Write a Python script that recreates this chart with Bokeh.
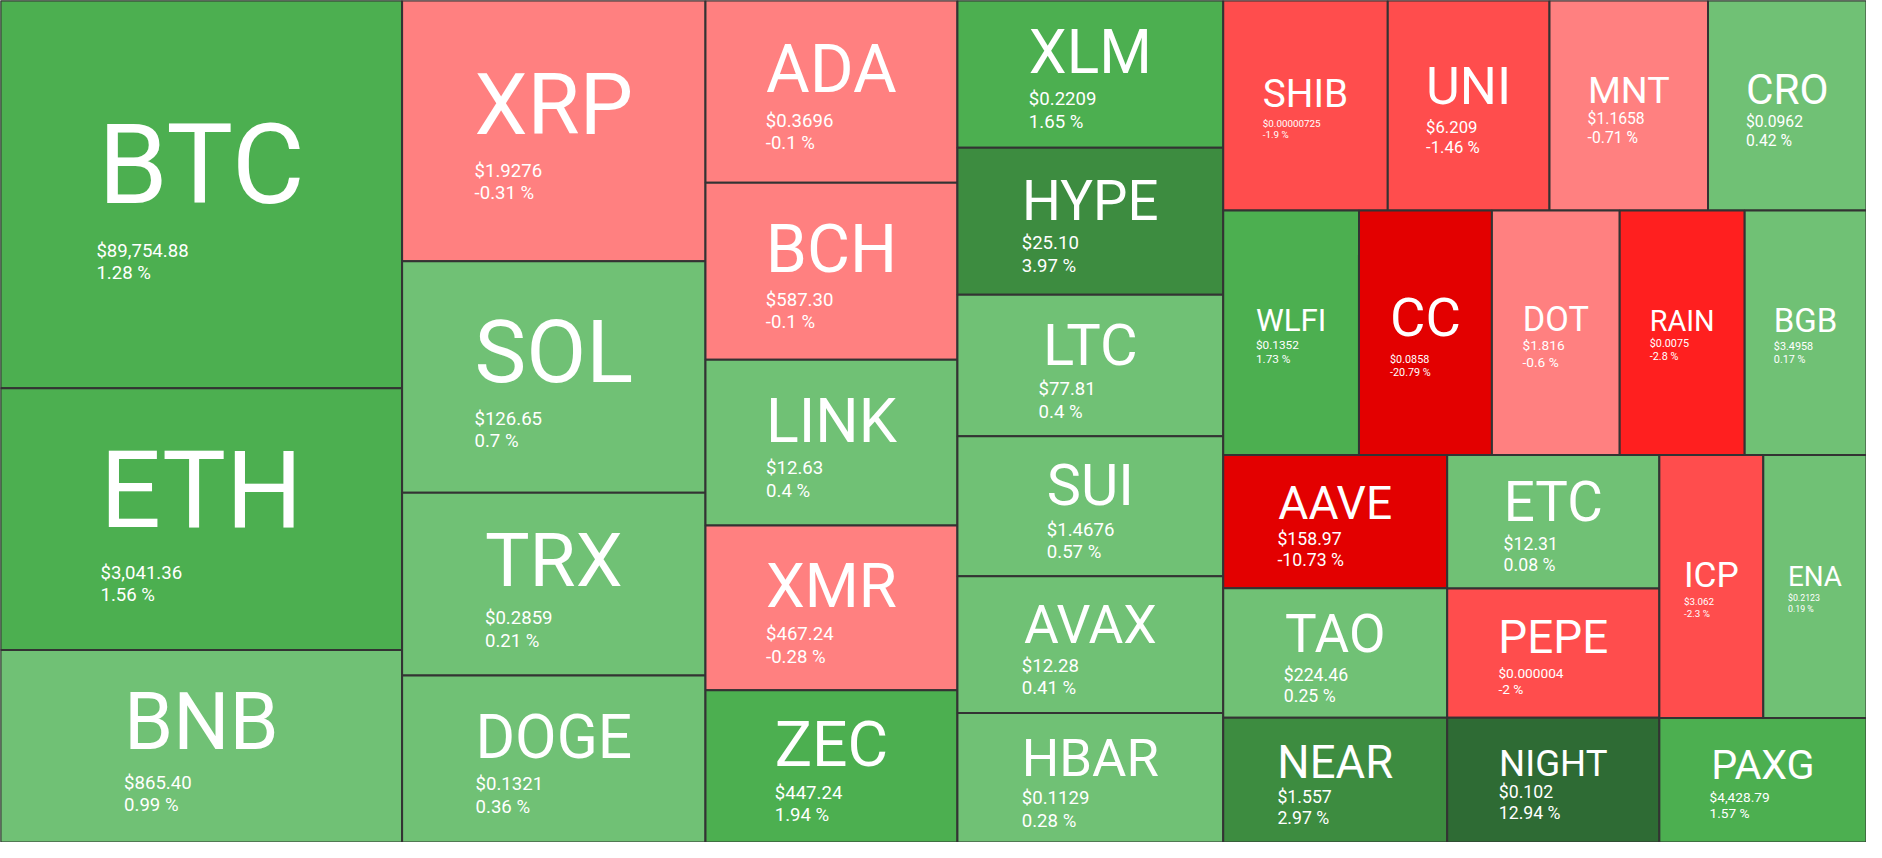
from bokeh.plotting import figure
from bokeh.models import ColumnDataSource, Range1d
from bokeh.core.properties import value, field
from bokeh.embed import file_html
from bokeh.resources import INLINE

# ---------------- data ----------------
symbols = ["BTC", "ETH", "BNB", "XRP", "SOL", "TRX", "DOGE", "ADA", "BCH", "LINK",
           "XMR", "ZEC", "XLM", "HYPE", "LTC", "SUI", "AVAX", "HBAR", "SHIB", "UNI",
           "MNT", "CRO", "WLFI", "CC", "DOT", "RAIN", "BGB", "AAVE", "TAO", "NEAR",
           "ETC", "PEPE", "NIGHT", "ICP", "ENA", "PAXG"]
# relative tile weight (area share) of each coin
sizes = [160.0, 108.1, 79.4, 81.3, 72.2, 56.9, 52.1, 47.2, 45.8, 42.9,
         42.7, 39.4, 40.2, 40.2, 38.6, 38.3, 37.3, 35.4, 35.5, 34.9,
         34.2, 34.2, 34.1, 33.4, 32.1, 31.4, 30.6, 30.7, 29.8, 28.7,
         29.1, 28.2, 27.2, 28.1, 27.9, 26.5]
prices = ["$89,754.88", "$3,041.36", "$865.40", "$1.9276", "$126.65", "$0.2859", "$0.1321",
          "$0.3696", "$587.30", "$12.63", "$467.24", "$447.24", "$0.2209", "$25.10",
          "$77.81", "$1.4676", "$12.28", "$0.1129", "$0.00000725", "$6.209", "$1.1658",
          "$0.0962", "$0.1352", "$0.0858", "$1.816", "$0.0075", "$3.4958", "$158.97",
          "$224.46", "$1.557", "$12.31", "$0.000004", "$0.102", "$3.062", "$0.2123",
          "$4,428.79"]
changes = [1.28, 1.56, 0.99, -0.31, 0.7, 0.21, 0.36, -0.1, -0.1, 0.4,
           -0.28, 1.94, 1.65, 3.97, 0.4, 0.57, 0.41, 0.28, -1.9, -1.46,
           -0.71, 0.42, 1.73, -20.79, -0.6, -2.8, 0.17, -10.73, 0.25, 2.97,
           0.08, -2.0, 12.94, -2.3, 0.19, 1.57]

# ---------------- style ----------------
# font size (px) of the price / change lines in each tile
sub_font_px = [19, 19, 19, 19, 19, 19, 19, 19, 19, 19,
               19, 19, 19, 19, 19, 19, 19, 19, 10, 17,
               16, 16, 12, 11, 14, 11, 11, 18, 18, 18,
               18, 14, 18, 10, 9, 14]

FIG_W, FIG_H = 1866, 842
W_C, H_C = 1882.0, 880.0   # layout canvas
FONT = "Roboto"
BASELINE_FIX = 0.27        # renderer places big text slightly low

ADV = {"A": .652, "B": .623, "C": .651, "D": .656, "E": .568, "F": .553, "G": .681,
       "H": .713, "I": .272, "J": .552, "K": .627, "L": .538, "M": .873, "N": .713,
       "O": .688, "P": .631, "Q": .688, "R": .616, "S": .594, "T": .597, "U": .648,
       "V": .636, "W": .887, "X": .627, "Y": .600, "Z": .599}


def tile_color(c):
    if c <= -5:
        return "#e30000"
    if c <= -2.5:
        return "#ff1f1f"
    if c <= -1:
        return "#ff4d4d"
    if c < 0:
        return "#ff8080"
    if c < 1:
        return "#70c175"
    if c < 2.5:
        return "#4caf50"
    if c < 5:
        return "#3d8c40"
    return "#2e6b34"


def squarify(vals, x0, y0, x1, y1, ratio=(1 + 5 ** 0.5) / 2):
    """d3-style squarified treemap layout."""
    n = len(vals)
    out = [None] * n
    remaining = float(sum(vals))
    i0 = i1 = 0
    while i0 < n:
        dx, dy = x1 - x0, y1 - y0
        s = vals[i1]
        i1 += 1
        vmin = vmax = s
        alpha = max(dy / dx, dx / dy) / (remaining * ratio)
        beta = s * s * alpha
        best = max(vmax / beta, beta / vmin)
        while i1 < n:
            v = vals[i1]
            s += v
            vmin = min(vmin, v)
            vmax = max(vmax, v)
            beta = s * s * alpha
            r = max(vmax / beta, beta / vmin)
            if r > best:
                s -= v
                break
            best = r
            i1 += 1
        if dx < dy:
            yn = y0 + dy * s / remaining
            xx = x0
            for i in range(i0, i1):
                w = dx * vals[i] / s
                out[i] = (xx, y0, xx + w, yn)
                xx += w
            y0 = yn
        else:
            xn = x0 + dx * s / remaining
            yy = y0
            for i in range(i0, i1):
                h = dy * vals[i] / s
                out[i] = (x0, yy, xn, yy + h)
                yy += h
            x0 = xn
        remaining -= s
        i0 = i1
    return out


rects = squarify(sizes, 0.0, 0.0, W_C, H_C)
sx, sy = FIG_W / W_C, FIG_H / H_C
fscale = FIG_H / 858.0

tiles = dict(l=[], r=[], t=[], b=[], c=[])
lab = dict(x=[], y=[], text=[], fs=[])
sub = dict(x=[], y=[], text=[], fs=[])

for sym, (x0, y0, x1, y1), pr, ch, sf in zip(symbols, rects, prices, changes, sub_font_px):
    tiles["l"].append(x0); tiles["r"].append(x1)
    tiles["t"].append(y0); tiles["b"].append(y1)
    tiles["c"].append(tile_color(ch))
    w_px, h_px = (x1 - x0) * sx, (y1 - y0) * sy
    adv = sum(ADV.get(c_, .6) for c_ in sym)
    F = min(0.5 * w_px / (adv - 0.08), 0.41 * h_px)
    s = sf * fscale
    block = 0.711 * F + 0.5 * F + 1.2 * s
    cx = (x0 + x1) / 2.0
    cy_px = (y0 + y1) / 2.0 * sy
    base_main = cy_px - block / 2.0 + 0.711 * F
    base_price = base_main + 0.5 * F
    base_pct = base_price + 1.2 * s
    lab["x"].append(cx); lab["y"].append((base_main - BASELINE_FIX * F) / sy)
    lab["text"].append(sym); lab["fs"].append("%.1fpx" % F)
    left = cx - (adv * F / 2.0) / sx
    sub["x"] += [left, left]
    sub["y"] += [base_price / sy, base_pct / sy]
    sub["text"] += [pr, "%s %%" % format(ch, "g")]
    sub["fs"] += ["%.1fpx" % s, "%.1fpx" % s]

p = figure(width=FIG_W, height=FIG_H, output_backend="svg", toolbar_location=None,
           x_range=Range1d(0, W_C), y_range=Range1d(H_C, 0), min_border=0)
p.axis.visible = False
p.grid.visible = False
p.outline_line_color = None
p.background_fill_color = "#333333"
p.border_fill_color = "#333333"

p.quad(left="l", right="r", top="t", bottom="b", fill_color="c",
       line_color="#333333", line_width=2, source=ColumnDataSource(tiles))
p.text(x="x", y="y", text="text", source=ColumnDataSource(lab),
       text_font=value(FONT), text_font_size=field("fs"), text_color="white",
       text_align="center", text_baseline="alphabetic")
p.text(x="x", y="y", text="text", source=ColumnDataSource(sub),
       text_font=value(FONT), text_font_size=field("fs"), text_color="white",
       text_align="left", text_baseline="alphabetic")

open("out.html", "w").write(file_html(p, INLINE))
